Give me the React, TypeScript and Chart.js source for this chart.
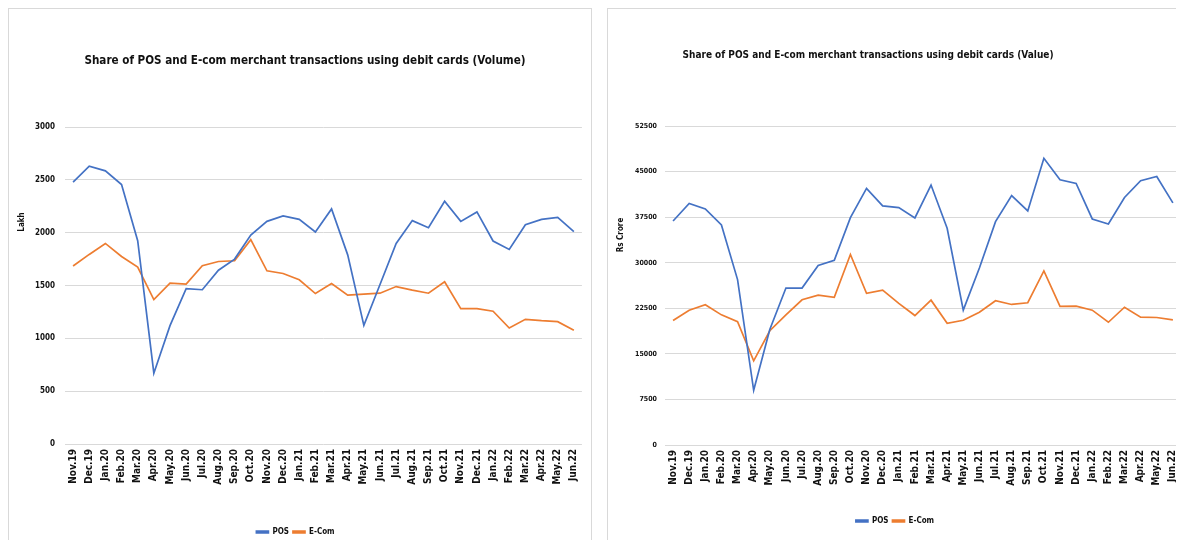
import React, { useEffect, useRef } from "react";
import { Chart, registerables } from "chart.js";

Chart.register(...registerables);

// ---------- data ----------
const months = [
  "Nov.19", "Dec.19", "Jan.20", "Feb.20", "Mar.20", "Apr.20", "May.20", "Jun.20",
  "Jul.20", "Aug.20", "Sep.20", "Oct.20", "Nov.20", "Dec.20", "Jan.21", "Feb.21",
  "Mar.21", "Apr.21", "May.21", "Jun.21", "Jul.21", "Aug.21", "Sep.21", "Oct.21",
  "Nov.21", "Dec.21", "Jan.22", "Feb.22", "Mar.22", "Apr.22", "May.22", "Jun.22",
];

const posVolume = [
  2478, 2630, 2585, 2455, 1924, 670, 1120, 1471, 1460, 1645, 1750, 1978, 2107, 2158, 2126, 2006,
  2225, 1790, 1123, 1510, 1898, 2114, 2047, 2297, 2107, 2196, 1921, 1841, 2075, 2126, 2145, 2009,
];
const ecomVolume = [
  1684, 1794, 1898, 1775, 1674, 1367, 1522, 1513, 1687, 1727, 1734, 1934, 1639, 1614, 1554, 1424,
  1519, 1408, 1418, 1427, 1490, 1456, 1427, 1535, 1281, 1281, 1256, 1098, 1180, 1167, 1158, 1076,
];

const posValue = [
  36870, 39740, 38860, 36210, 27220, 9000, 19000, 25830, 25830, 29540, 30410, 37420, 42220, 39350, 39070, 37370,
  42780, 35660, 22190, 29140, 36760, 41060, 38530, 47190, 43660, 43050, 37200, 36370, 40730, 43490, 44200, 39850,
];
const ecomValue = [
  20480, 22190, 23080, 21420, 20310, 13850, 18800, 21420, 23900, 24670, 24290, 31350, 24950, 25500, 23300, 21310,
  23840, 20030, 20530, 21850, 23740, 23130, 23410, 28640, 22800, 22850, 22190, 20200, 22680, 21030, 20980, 20600,
];

const volumeTicks = [0, 500, 1000, 1500, 2000, 2500, 3000];
const valueTicks = [0, 7500, 15000, 22500, 30000, 37500, 45000, 52500];

const seriesNames = ["POS", "E-Com"];
const volumeTitle = "Share of POS and E-com merchant transactions using debit cards (Volume)";
const valueTitle = "Share of POS and E-com merchant transactions using debit cards (Value)";
const volumeAxis = "Lakh";
const valueAxis = "Rs Crore";

// ---------- styles ----------
const FONT = "'Liberation Sans Narrow', 'DejaVu Sans Condensed', 'Liberation Sans', sans-serif";
const BLUE = "#4472C4";
const ORANGE = "#ED7D31";
const GRID = "#d9d9d9";
const TEXT = "#111111";

const panelText = {
  id: "panelText",
  afterDraw(chart: any, _args: any, opts: any) {
    const ctx = chart.ctx;
    ctx.save();
    ctx.fillStyle = TEXT;
    ctx.textAlign = "center";
    ctx.textBaseline = "middle";
    ctx.font = `bold ${opts.titleSize}px ${FONT}`;
    ctx.fillText(opts.title, opts.titleX, opts.titleY);
    ctx.translate(opts.axisX, opts.axisY);
    ctx.rotate(-Math.PI / 2);
    ctx.font = `bold ${opts.axisSize}px ${FONT}`;
    ctx.fillText(opts.axisTitle, 0, 0);
    ctx.restore();
  },
};

function makeConfig(p: any) {
  const ticks = p.ticks as number[];
  return {
    type: "line",
    data: {
      labels: months,
      datasets: [
        {
          label: seriesNames[0], data: p.pos, borderColor: BLUE, backgroundColor: BLUE,
          borderWidth: 1.7, pointRadius: 0, tension: 0,
        },
        {
          label: seriesNames[1], data: p.ecom, borderColor: ORANGE, backgroundColor: ORANGE,
          borderWidth: 1.7, pointRadius: 0, tension: 0,
        },
      ],
    },
    options: {
      responsive: false,
      animation: false,
      devicePixelRatio: 1,
      layout: { padding: { left: 0, right: p.padRight, top: p.padTop, bottom: p.padBottom } },
      plugins: {
        title: { display: false },
        tooltip: { enabled: false },
        legend: {
          position: "bottom",
          labels: {
            boxWidth: 12, boxHeight: 2, padding: 4, color: TEXT,
            font: { family: FONT, size: p.legendSize, weight: "bold" },
          },
        },
        panelText: {
          title: p.title, titleSize: p.titleSize, titleX: p.titleX, titleY: p.titleY,
          axisTitle: p.axisTitle, axisSize: p.axisSize, axisX: p.axisX, axisY: p.axisY,
        },
      },
      scales: {
        x: {
          offset: true,
          grid: { display: false, drawTicks: false, offset: true },
          border: { display: false },
          ticks: {
            minRotation: 90, maxRotation: 90, autoSkip: false, padding: 5, color: TEXT,
            font: { family: FONT, size: p.xSize, weight: "bold" },
          },
          afterFit(s: any) { s.height = p.xHeight; },
        },
        y: {
          min: ticks[0],
          max: ticks[ticks.length - 1],
          grid: { color: GRID, drawTicks: false, lineWidth: 1 },
          border: { display: false },
          ticks: {
            stepSize: ticks[1] - ticks[0], padding: p.yPad, color: TEXT,
            font: { family: FONT, size: p.ySize, weight: "bold" },
            callback: (v: any) => String(v),
          },
          afterFit(s: any) { s.width = p.yWidth; },
        },
      },
    },
    plugins: [panelText],
  };
}

export default function App() {
  const leftRef = useRef<HTMLCanvasElement>(null);
  const rightRef = useRef<HTMLCanvasElement>(null);

  useEffect(() => {
    const left = new Chart(leftRef.current as any, makeConfig({
      pos: posVolume, ecom: ecomVolume, ticks: volumeTicks,
      title: volumeTitle, titleSize: 11.6, titleX: 296, titleY: 52,
      axisTitle: volumeAxis, axisSize: 8, axisX: 13, axisY: 213,
      padRight: 9, padTop: 118, padBottom: 3, xHeight: 80, yWidth: 56, yPad: 10,
      xSize: 10, ySize: 8, legendSize: 8,
    }) as any);
    const right = new Chart(rightRef.current as any, makeConfig({
      pos: posValue, ecom: ecomValue, ticks: valueTicks,
      title: valueTitle, titleSize: 10, titleX: 260, titleY: 46,
      axisTitle: valueAxis, axisSize: 8, axisX: 13, axisY: 226,
      padRight: 8, padTop: 117, padBottom: 14, xHeight: 68, yWidth: 57, yPad: 8,
      xSize: 10, ySize: 7, legendSize: 8,
    }) as any);
    return () => {
      left.destroy();
      right.destroy();
    };
  }, []);

  const panel: React.CSSProperties = {
    position: "absolute",
    top: 0,
    width: 582,
    height: 540,
    border: `1px solid ${GRID}`,
    background: "#fff",
  };

  return (
    <div style={{ position: "relative", width: 1176, height: 532, overflow: "hidden", background: "#fff" }}>
      <div style={{ ...panel, left: 0 }}>
        <canvas ref={leftRef} width={582} height={540} style={{ display: "block" }} />
      </div>
      <div style={{ ...panel, left: 599 }}>
        <canvas ref={rightRef} width={582} height={540} style={{ display: "block" }} />
      </div>
    </div>
  );
}
